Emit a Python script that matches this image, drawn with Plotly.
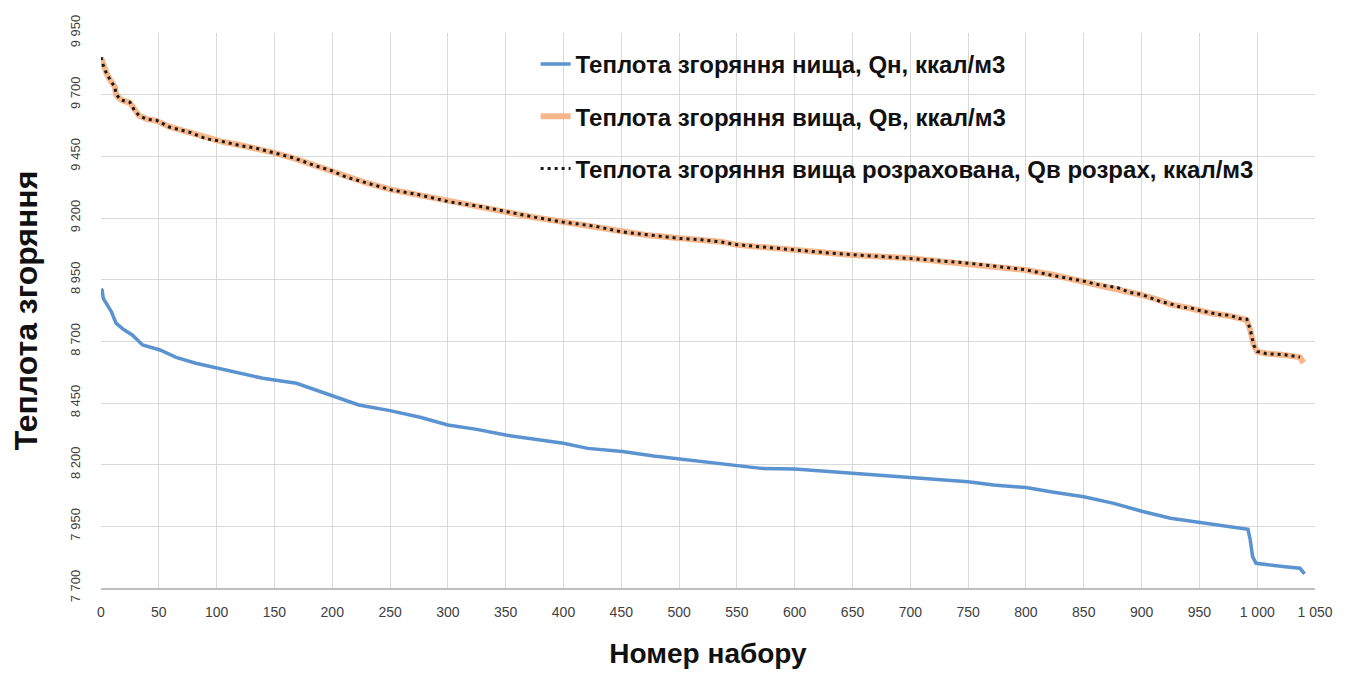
import plotly.graph_objects as go

# --- Data (x = номер набору) ---
qn_x = [0, 1, 2, 9, 13, 19, 27, 36, 51, 65, 82, 100, 120, 140, 169, 186, 200, 223, 250,
        276, 300, 325, 350, 374, 400, 421, 451, 478, 501, 526, 550, 571, 600, 650, 700,
        750, 772, 800, 824, 850, 876, 901, 925, 951, 971, 992, 994, 996, 999, 1009, 1024,
        1037, 1041]
qn_y = [8912, 8908, 8874, 8820, 8774, 8750, 8726, 8685, 8665, 8635, 8611, 8591, 8570, 8550,
        8530, 8503, 8482, 8442, 8419, 8392, 8361, 8343, 8320, 8303, 8287, 8266, 8253, 8235,
        8222, 8208, 8195, 8185, 8182, 8165, 8147, 8131, 8118, 8107, 8088, 8070, 8043, 8010,
        7983, 7965, 7951, 7938, 7895, 7827, 7800, 7793, 7786, 7780, 7757]

qv_x = [0, 2, 5, 8, 12, 13, 17, 25, 29, 33, 40, 48, 59, 77, 91, 105, 120, 134, 150, 167,
        184, 200, 212, 229, 251, 275, 302, 328, 351, 374, 399, 428, 450, 471, 501, 518, 536,
        550, 600, 650, 700, 750, 800, 824, 850, 879, 900, 916, 925, 942, 959, 976, 991, 994,
        997, 1000, 1008, 1023, 1037, 1040]
qv_y = [9850, 9816, 9785, 9759, 9732, 9700, 9680, 9667, 9638, 9614, 9601, 9594, 9570, 9546,
        9523, 9509, 9496, 9482, 9464, 9442, 9415, 9390, 9367, 9343, 9315, 9293, 9266, 9246,
        9226, 9203, 9185, 9165, 9145, 9131, 9118, 9111, 9104, 9091, 9070, 9050, 9037, 9016,
        8989, 8969, 8942, 8915, 8888, 8866, 8850, 8834, 8815, 8803, 8786, 8746, 8685, 8658,
        8651, 8645, 8635, 8613]

qc_x = [0, 2, 5, 8, 12, 13, 17, 25, 29, 33, 40, 48, 59, 77, 91, 105, 120, 134, 150, 167,
        184, 200, 212, 229, 251, 275, 302, 328, 351, 374, 399, 428, 450, 471, 501, 518, 536,
        550, 600, 620, 650, 680, 700, 750, 800, 824, 850, 862, 879, 890, 900, 916, 925, 934,
        942, 951, 959, 968, 976, 985, 991, 994, 997, 1000, 1008, 1023, 1037]
qc_y = [9852, 9818, 9783, 9760, 9730, 9702, 9679, 9669, 9636, 9615, 9600, 9596, 9569, 9547,
        9521, 9510, 9494, 9483, 9463, 9443, 9414, 9391, 9366, 9344, 9314, 9294, 9265, 9247,
        9225, 9204, 9184, 9166, 9144, 9132, 9117, 9112, 9103, 9092, 9069, 9062, 9051, 9043,
        9036, 9017, 8990, 8966, 8944, 8930, 8918, 8898, 8890, 8862, 8852, 8838, 8836, 8824,
        8817, 8808, 8806, 8792, 8790, 8748, 8684, 8659, 8650, 8646, 8636]

x_ticks = list(range(0, 1051, 50))
y_ticks = list(range(7700, 9951, 250))

names = ["Теплота згоряння нища, Qн, ккал/м3",
         "Теплота згоряння вища, Qв, ккал/м3",
         "Теплота згоряння вища розрахована, Qв розрах, ккал/м3"]

fig = go.Figure()
fig.add_trace(go.Scatter(x=qn_x, y=qn_y, mode="lines", name=names[0], legendgroup="a",
                         line=dict(color="#5B93D0", width=3.5)))
fig.add_trace(go.Scatter(x=qv_x, y=qv_y, mode="lines", name=names[1], legendgroup="b",
                         line=dict(color="rgba(244,170,120,0.85)", width=6)))
fig.add_trace(go.Scatter(x=qc_x, y=qc_y, mode="lines", name=names[2], legendgroup="c",
                         line=dict(color="#1a1a1a", width=3, dash="3px,4px")))

sans = "Liberation Sans, Arial, sans-serif"

fig.update_layout(
    width=1348, height=673,
    margin=dict(l=101, r=33, t=33, b=85),
    paper_bgcolor="white", plot_bgcolor="white",
    separators=". ",
    showlegend=True,
    legend=dict(x=0.358, y=0.984, xanchor="left", yanchor="top",
                bgcolor="rgba(0,0,0,0)", tracegroupgap=18, traceorder="grouped",
                font=dict(family=sans, size=24, color="#111111", weight="bold"),
                itemwidth=30),
    xaxis=dict(range=[0, 1050], tickvals=x_ticks, tickformat=",d", automargin=False,
               showgrid=True, gridcolor="#D9D9D9", gridwidth=1,
               showline=True, linecolor="#BFBFBF", linewidth=1.5,
               zeroline=False, ticks="", ticklabelstandoff=10,
               tickfont=dict(family=sans, size=14, color="#404040"),
               title=dict(text="<b>Номер набору</b>", standoff=25,
                          font=dict(family=sans, size=28, color="#111111"))),
    yaxis=dict(range=[7700, 9950], tickvals=y_ticks, tickformat=",d", automargin=False,
               showgrid=True, gridcolor="#D9D9D9", gridwidth=1,
               showline=False, zeroline=False, ticks="", tickangle=-90,
               ticklabelstandoff=17,
               tickfont=dict(family=sans, size=13, color="#404040"),
               title=dict(text="<b>Теплота згоряння</b>", standoff=21,
                          font=dict(family=sans, size=32, color="#111111"))),
)

fig.write_html("out.html", config={"displayModeBar": False},
               post_script="document.body.style.margin='0';")
